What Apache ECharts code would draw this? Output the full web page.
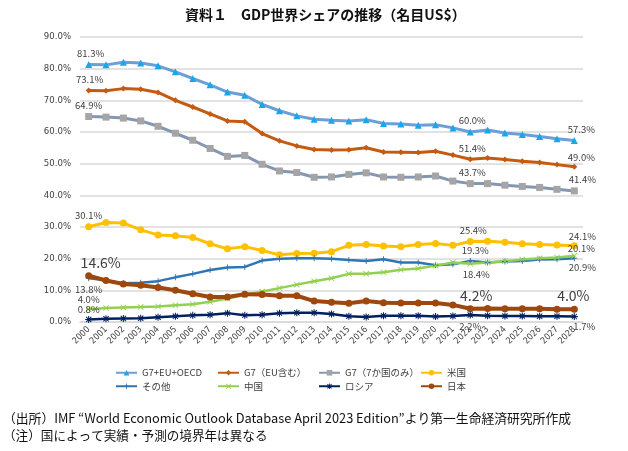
<!DOCTYPE html>
<html>
<head>
<meta charset="utf-8">
<script src="https://cdn.jsdelivr.net/npm/echarts@6/dist/echarts.min.js"></script>
<style>
  html, body { margin: 0; padding: 0; background: #fff; }
  #chart { width: 628px; height: 451px; }
</style>
</head>
<body>
<div id="chart"></div>
<script>
// 年（横軸）
const years = ['2000','2001','2002','2003','2004','2005','2006','2007','2008','2009',
  '2010','2011','2012','2013','2014','2015','2016','2017','2018','2019',
  '2020','2021','2022','2023','2024','2025','2026','2027','2028']

// 世界シェア（%）
const g7EuOecd = [81.3,81.2,82.0,81.8,80.9,79.0,76.9,74.9,72.6,71.6,68.7,66.7,65.1,64.0,63.7,63.5,63.9,62.7,62.5,62.1,62.3,61.3,60.0,60.6,59.7,59.2,58.6,57.9,57.3]
const g7Eu = [73.1,73.0,73.7,73.5,72.5,70.0,67.9,65.7,63.5,63.2,59.5,57.2,55.6,54.5,54.3,54.4,55.0,53.7,53.6,53.5,53.9,52.7,51.4,51.8,51.3,50.8,50.4,49.7,49.0]
const g7Only = [64.9,64.7,64.4,63.5,61.8,59.6,57.4,54.8,52.3,52.6,49.8,47.7,47.2,45.7,45.8,46.6,47.1,45.8,45.7,45.8,46.1,44.5,43.7,43.7,43.2,42.8,42.5,41.9,41.4]
const usa = [30.1,31.4,31.3,29.1,27.5,27.2,26.7,24.7,23.1,23.8,22.6,21.2,21.6,21.7,22.2,24.2,24.5,24.0,23.8,24.5,24.8,24.2,25.4,25.5,25.2,24.7,24.5,24.3,24.1]
const others = [13.8,13.2,12.2,12.4,12.9,14.1,15.2,16.4,17.2,17.4,19.4,20.0,20.1,20.1,20.0,19.6,19.3,19.8,18.8,18.8,17.9,18.2,19.3,18.8,19.1,19.3,19.7,19.8,20.1]
const china = [4.0,4.4,4.6,4.7,4.9,5.3,5.6,6.4,7.4,8.5,9.6,10.7,11.8,12.9,13.8,15.2,15.2,15.7,16.5,16.9,17.8,18.8,18.4,18.8,19.2,19.7,20.1,20.4,20.9]
const russia = [0.8,1.0,1.1,1.2,1.5,1.8,2.1,2.3,2.8,2.1,2.3,2.8,2.9,2.9,2.5,1.8,1.6,2.0,2.0,2.0,1.7,1.9,2.2,2.0,1.9,1.9,1.8,1.8,1.7]
const japan = [14.6,13.1,12.0,11.6,10.9,10.0,8.9,7.9,7.9,8.8,8.7,8.3,8.3,6.6,6.2,5.9,6.6,6.1,6.0,6.0,6.0,5.4,4.2,4.3,4.2,4.2,4.2,4.0,4.0]

// 縦軸
const yMax = 90
const yStep = 10

const FONT = "'Noto Sans CJK JP', 'Liberation Sans', sans-serif"
const NARROW = "'Liberation Sans Narrow', 'DejaVu Sans Condensed', 'Liberation Sans', sans-serif"

const PLUS = 'path://M0,3.4h8v1.2H0zM3.4,0h1.2v8H3.4z'
const CROSS = 'path://M0,0.8L0.8,0L8,7.2L7.2,8zM7.2,0L8,0.8L0.8,8L0,7.2z'
const STAR = 'path://M0,3.4h8v1.2H0zM3.4,0h1.2v8H3.4zM0.6,1.4L1.4,0.6L7.4,6.6L6.6,7.4zM6.6,0.6L7.4,1.4L1.4,7.4L0.6,6.6z'

// ラベル付きのデータ点
const withLabels = (values, specs, big) => values.map((v, i) => {
  const s = specs[i]
  if (!s) return v
  return {
    value: v,
    label: {
      show: true,
      position: s[0],
      offset: [s[1] || 0, s[2] || 0],
      distance: 3,
      formatter: (p) => p.value.toFixed(1) + '%',
      color: '#404040',
      fontSize: big ? 14 : 9.5,
      fontFamily: FONT
    }
  }
})

const line = (name, values, opt) => ({
  name,
  type: 'line',
  data: withLabels(values, opt.labels, opt.big),
  symbol: opt.symbol,
  symbolSize: opt.size,
  lineStyle: { color: opt.line, width: opt.width || 3 },
  itemStyle: { color: opt.mark },
  emphasis: { disabled: true },
  animation: false
})

const chart = echarts.init(document.getElementById('chart'))

chart.setOption({
  animation: false,
  title: {
    text: '資料１　GDP世界シェアの推移（名目US$）',
    left: 180,
    top: 3,
    textStyle: { fontSize: 14, fontWeight: 'bold', fontFamily: FONT, color: '#111' }
  },
  grid: { left: 80, right: 45, top: 37, bottom: 129 },
  xAxis: {
    type: 'category',
    data: years,
    boundaryGap: true,
    axisLine: { lineStyle: { color: '#d9d9d9', width: 1.5 } },
    axisTick: { show: false },
    axisLabel: { rotate: 45, fontSize: 9, color: '#404040', margin: 6, interval: 0, fontFamily: NARROW }
  },
  yAxis: {
    type: 'value',
    min: 0,
    max: yMax,
    interval: yStep,
    axisLine: { show: false },
    axisTick: { show: false },
    splitLine: { lineStyle: { color: '#d9d9d9', width: 1.5 } },
    axisLabel: {
      formatter: (v) => v.toFixed(1) + '%',
      fontSize: 9.5, color: '#404040', margin: 9, fontFamily: NARROW
    }
  },
  legend: [
    { data: ['G7+EU+OECD', 'その他'], left: 110 },
    { data: ['G7（EU含む）', '中国'], left: 212 },
    { data: ['G7（7か国のみ）', 'ロシア'], left: 313 },
    { data: ['米国', '日本'], left: 415 }
  ].map((l) => ({
    ...l,
    top: 363,
    orient: 'vertical',
    itemWidth: 21,
    itemHeight: 7,
    itemGap: 4,
    textStyle: { fontSize: 9.5, color: '#404040', fontFamily: FONT }
  })),
  graphic: [
    {
      type: 'text', left: 3, top: 412,
      style: { text: '（出所）IMF “World Economic Outlook Database April 2023 Edition”より第一生命経済研究所作成', fontSize: 12.8, fontFamily: FONT, fill: '#111' }
    },
    {
      type: 'text', left: 3, top: 429,
      style: { text: '（注）国によって実績・予測の境界年は異なる', fontSize: 12.6, fontFamily: FONT, fill: '#111' }
    }
  ],
  series: [
    line('G7+EU+OECD', g7EuOecd, { symbol: 'triangle', size: 7, line: '#6a9fd8', mark: '#1aa6ea',
      labels: { 0: ['top', 2], 22: ['top', 2], 28: ['top', 7] } }),
    line('G7（EU含む）', g7Eu, { symbol: 'diamond', size: 6, line: '#c55a11', mark: '#c55a11',
      labels: { 0: ['top', 1], 22: ['top', 2], 28: ['top', 7, 1] } }),
    line('G7（7か国のみ）', g7Only, { symbol: 'rect', size: 7, line: '#8497b0', mark: '#a5a5a5',
      labels: { 0: ['top', 0], 22: ['top', 2], 28: ['top', 8] } }),
    line('米国', usa, { symbol: 'circle', size: 7, line: '#ffc000', mark: '#ffc000',
      labels: { 0: ['top', 0], 22: ['top', 3], 28: ['top', 8, 2] } }),
    line('その他', others, { symbol: PLUS, size: 6, line: '#2e75b6', mark: '#2e75b6', width: 2.5,
      labels: { 0: ['bottom', 0, 0], 22: ['top', 5], 28: ['top', 7, 1] } }),
    line('中国', china, { symbol: CROSS, size: 6, line: '#92d050', mark: '#92d050', width: 2.5,
      labels: { 0: ['top', 0, 1], 22: ['bottom', 6], 28: ['bottom', 8, 1] } }),
    line('ロシア', russia, { symbol: STAR, size: 7, line: '#002060', mark: '#002060', width: 2.5,
      labels: { 0: ['top', 0, 1], 22: ['bottom', 0], 28: ['bottom', 10, -1] } }),
    line('日本', japan, { symbol: 'circle', size: 7, line: '#9e480e', mark: '#9e480e', width: 4, big: true,
      labels: { 0: ['top', 12], 22: ['top', 6], 28: ['top', -1] } })
  ]
})
</script>
</body>
</html>
